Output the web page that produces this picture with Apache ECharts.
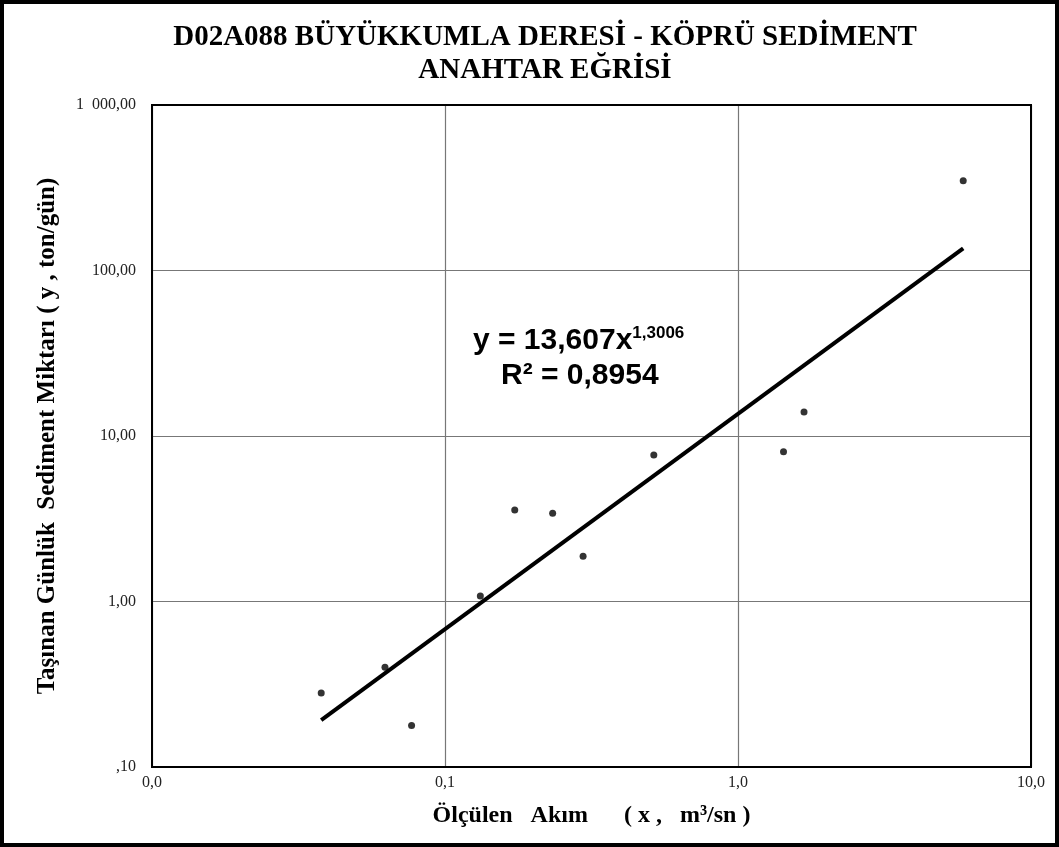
<!DOCTYPE html>
<html>
<head>
<meta charset="utf-8">
<script src="https://cdn.jsdelivr.net/npm/echarts@6/dist/echarts.min.js"></script>
<style>
html,body{margin:0;padding:0;background:#fff;}
#frame{position:absolute;left:0;top:0;width:1059px;height:847px;box-sizing:border-box;border:4px solid #000;}
#c{position:absolute;left:0;top:0;width:1059px;height:847px;}
</style>
</head>
<body>
<div id="c"></div>
<div id="frame"></div>
<script>
// Measured points: x = discharge (m3/s), y = sediment load (ton/day)
const flowX = [0.0378, 0.0624, 0.0769, 0.132, 0.173, 0.233, 0.296, 0.516, 1.43, 1.68, 5.87];
const sedimentY = [0.28, 0.40, 0.178, 1.08, 3.57, 3.41, 1.88, 7.68, 8.04, 13.96, 349];
// Trend line endpoints (power fit drawn straight on log-log)
const trendX = [0.0378, 5.87];
const trendY = [0.192, 136];
// Tick labels
const xTickValues = [0.01, 0.1, 1, 10];
const xTickLabels = ['0,0', '0,1', '1,0', '10,0'];
const yTickValues = [0.1, 1, 10, 100, 1000];
const yTickLabels = [',10', '1,00', '10,00', '100,00', '1\u2002000,00'];
const titleLines = ['D02A088 BÜYÜKKUMLA DERESİ - KÖPRÜ SEDİMENT', 'ANAHTAR EĞRİSİ'];
const xAxisTitle = 'Ölçülen   Akım      ( x ,   m³/sn )';
const yAxisTitle = 'Taşınan Günlük  Sediment Miktarı ( y , ton/gün)';
const eqLine1 = 'y = 13,607x';
const eqExp = '1,3006';
const eqLine2 = 'R² = 0,8954';

function lookup(vals, labels, v) {
  for (let i = 0; i < vals.length; i++) {
    if (Math.abs(Math.log10(v) - Math.log10(vals[i])) < 1e-6) return labels[i];
  }
  return '';
}

const chart = echarts.init(document.getElementById('c'), null, {renderer: 'canvas'});
const serif = '"Liberation Serif","Times New Roman",serif';
const sans = '"Liberation Sans", Arial, sans-serif';
chart.setOption({
  backgroundColor: '#fff',
  animation: false,
  grid: {left: 152, top: 105, right: 28, bottom: 80, show: false},
  xAxis: {
    type: 'log', logBase: 10, min: 0.01, max: 10,
    name: xAxisTitle, nameLocation: 'middle', nameGap: 37,
    nameTextStyle: {fontFamily: serif, fontWeight: 'bold', fontSize: 24, color: '#000'},
    axisLine: {show: true, lineStyle: {color: '#000', width: 2}},
    axisTick: {show: false},
    axisLabel: {
      fontFamily: serif, fontSize: 16, color: '#222', margin: 8,
      formatter: v => lookup(xTickValues, xTickLabels, v)
    },
    splitLine: {show: true, lineStyle: {color: '#777', width: 1.2}},
    minorTick: {show: false}
  },
  yAxis: {
    type: 'log', logBase: 10, min: 0.1, max: 1000,
    name: yAxisTitle, nameLocation: 'middle', nameGap: 92, nameRotate: 90,
    nameTextStyle: {fontFamily: serif, fontWeight: 'bold', fontSize: 25, color: '#000'},
    axisLine: {show: true, lineStyle: {color: '#000', width: 2}},
    axisTick: {show: false},
    axisLabel: {
      fontFamily: serif, fontSize: 16, color: '#222', margin: 16,
      formatter: v => lookup(yTickValues, yTickLabels, v)
    },
    splitLine: {show: true, lineStyle: {color: '#777', width: 1.2}}
  },
  graphic: [
    {type: 'rect', shape: {x: 152, y: 105, width: 879, height: 662}, style: {fill: 'none', stroke: '#000', lineWidth: 2}, z: 100, silent: true},
    {
      type: 'text', x: 545, y: 21, z: 110,
      style: {text: titleLines.join('\n'), fontFamily: serif, fontWeight: 'bold', fontSize: 29, lineHeight: 33, fill: '#000', textAlign: 'center', align: 'center'}
    },
    {
      type: 'text', left: 473, top: 325, z: 110,
      style: {
        text: '{b|' + eqLine1 + '}{s|' + eqExp + '}',
        rich: {
          b: {fontFamily: sans, fontWeight: 'bold', fontSize: 30, color: '#000'},
          s: {fontFamily: sans, fontWeight: 'bold', fontSize: 17, color: '#000', verticalAlign: 'top', padding: [0, 0, 15, 0]}
        }
      }
    },
    {
      type: 'text', left: 501, top: 361, z: 110,
      style: {text: eqLine2, fontFamily: sans, fontWeight: 'bold', fontSize: 30, fill: '#000'}
    }
  ],
  series: [
    {
      type: 'line', data: trendX.map((x, i) => [x, trendY[i]]),
      showSymbol: false, symbol: 'none',
      lineStyle: {color: '#000', width: 4}, z: 3
    },
    {
      type: 'scatter', data: flowX.map((x, i) => [x, sedimentY[i]]),
      symbol: 'circle', symbolSize: 7,
      itemStyle: {color: '#000'}, z: 4
    }
  ]
});
</script>
</body>
</html>
